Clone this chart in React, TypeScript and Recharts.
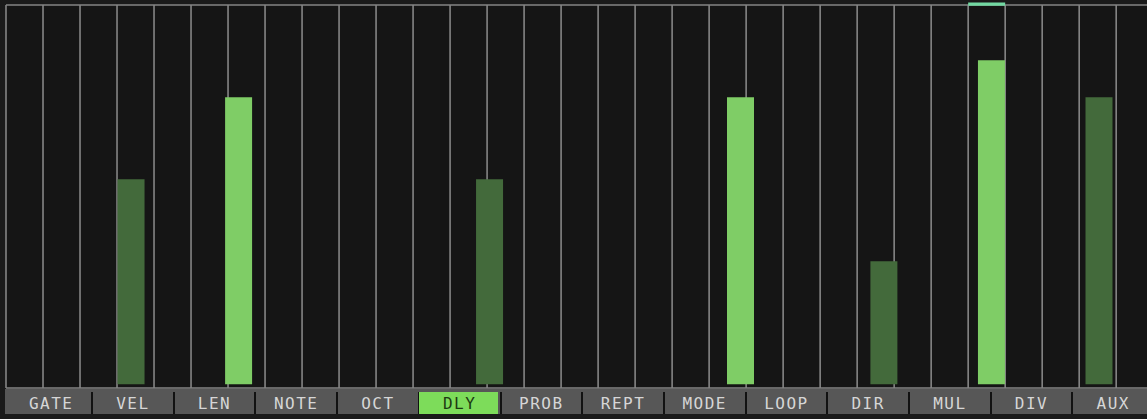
import React from 'react';
import { BarChart, Bar, XAxis, YAxis, CartesianGrid, ReferenceArea, Cell } from 'recharts';

const STEP_LABELS = ['1','2','3','4','5','6','7','8','9','10','11','12','13','14','15','16','17','18','19','20','21','22','23','24','25','26','27','28','29','30','31','32'];
const STEP_VALUES = [0,0,0,5,0,0,7,0,0,0,0,0,0,5,0,0,0,0,0,0,7,0,0,0,3,0,0,7.9,0,0,7,0];
const STEP_BRIGHT = [0,0,0,0,0,0,1,0,0,0,0,0,0,0,0,0,0,0,0,0,1,0,0,0,0,0,0,1,0,0,0,0];
const GRID_TICKS = [0,1,2,3,4,5,6,7,8,9,10,11,12,13,14,15,16,17,18,19,20,21,22,23,24,25,26,27,28,29,30,31,32];
const Y_DOMAIN: [number, number] = [-0.09, 9.25];
const TABS = ['GATE','VEL','LEN','NOTE','OCT','DLY','PROB','REPT','MODE','LOOP','DIR','MUL','DIV','AUX'];
const ACTIVE_TAB = 'DLY';
const PLAYHEAD_STEP = 26;

const TAB_LEFT = 10.3;
const TAB_W = 81.7;

export default function App() {
  const data = STEP_LABELS.map((s, i) => ({ step: s, value: STEP_VALUES[i], bright: STEP_BRIGHT[i] }));
  return (
    <div style={{ position: 'absolute', left: 0, top: 0, width: 1147, height: 419, background: '#1a1a1a', overflow: 'hidden' }}>
      <BarChart width={1160} height={392} data={data} margin={{ top: 5, right: 6.8, bottom: 4, left: 6 }} barSize={27}>
        <XAxis xAxisId="cat" dataKey="step" type="category" hide />
        <XAxis xAxisId="grid" type="number" domain={[0, 32]} ticks={GRID_TICKS} allowDataOverflow hide />
        <YAxis domain={Y_DOMAIN} ticks={Y_DOMAIN} allowDataOverflow hide />
        <CartesianGrid xAxisId="grid" fill="#151515" stroke="#858585" strokeWidth={1.6} />
        <Bar xAxisId="cat" dataKey="value" isAnimationActive={false}>
          {data.map((d, i) => (
            <Cell key={i} fill={d.bright ? '#7fcd66' : '#436a3b'} />
          ))}
        </Bar>
        <ReferenceArea xAxisId="grid" x1={PLAYHEAD_STEP} x2={PLAYHEAD_STEP + 1} y1={9.23} y2={9.31} ifOverflow="visible" fill="#72d8a2" fillOpacity={1} stroke="none" />
      </BarChart>
      <div style={{ position: 'absolute', left: 5, top: 389, width: 1142, height: 25, background: '#575757' }} />
      {TABS.map((t, i) => {
        const active = t === ACTIVE_TAB;
        const left = TAB_LEFT + TAB_W * i;
        return (
          <React.Fragment key={t}>
            {active && (
              <div style={{ position: 'absolute', left: left, top: 392, width: TAB_W - 2, height: 22, background: '#7ddc5a' }} />
            )}
            <div
              style={{
                position: 'absolute',
                left: left,
                top: 389,
                width: TAB_W,
                height: 25,
                display: 'flex',
                alignItems: 'center',
                justifyContent: 'center',
                paddingTop: 3,
                boxSizing: 'border-box',
                fontFamily: '"DejaVu Sans Mono", monospace',
                fontSize: 16,
                letterSpacing: 1.5,
                color: active ? '#1c3a12' : '#d6d6d6',
              }}
            >
              {t}
            </div>
            {i < TABS.length - 1 && (
              <div style={{ position: 'absolute', left: left + TAB_W - 1, top: 392, width: 2, height: 22, background: '#121212' }} />
            )}
          </React.Fragment>
        );
      })}
    </div>
  );
}
